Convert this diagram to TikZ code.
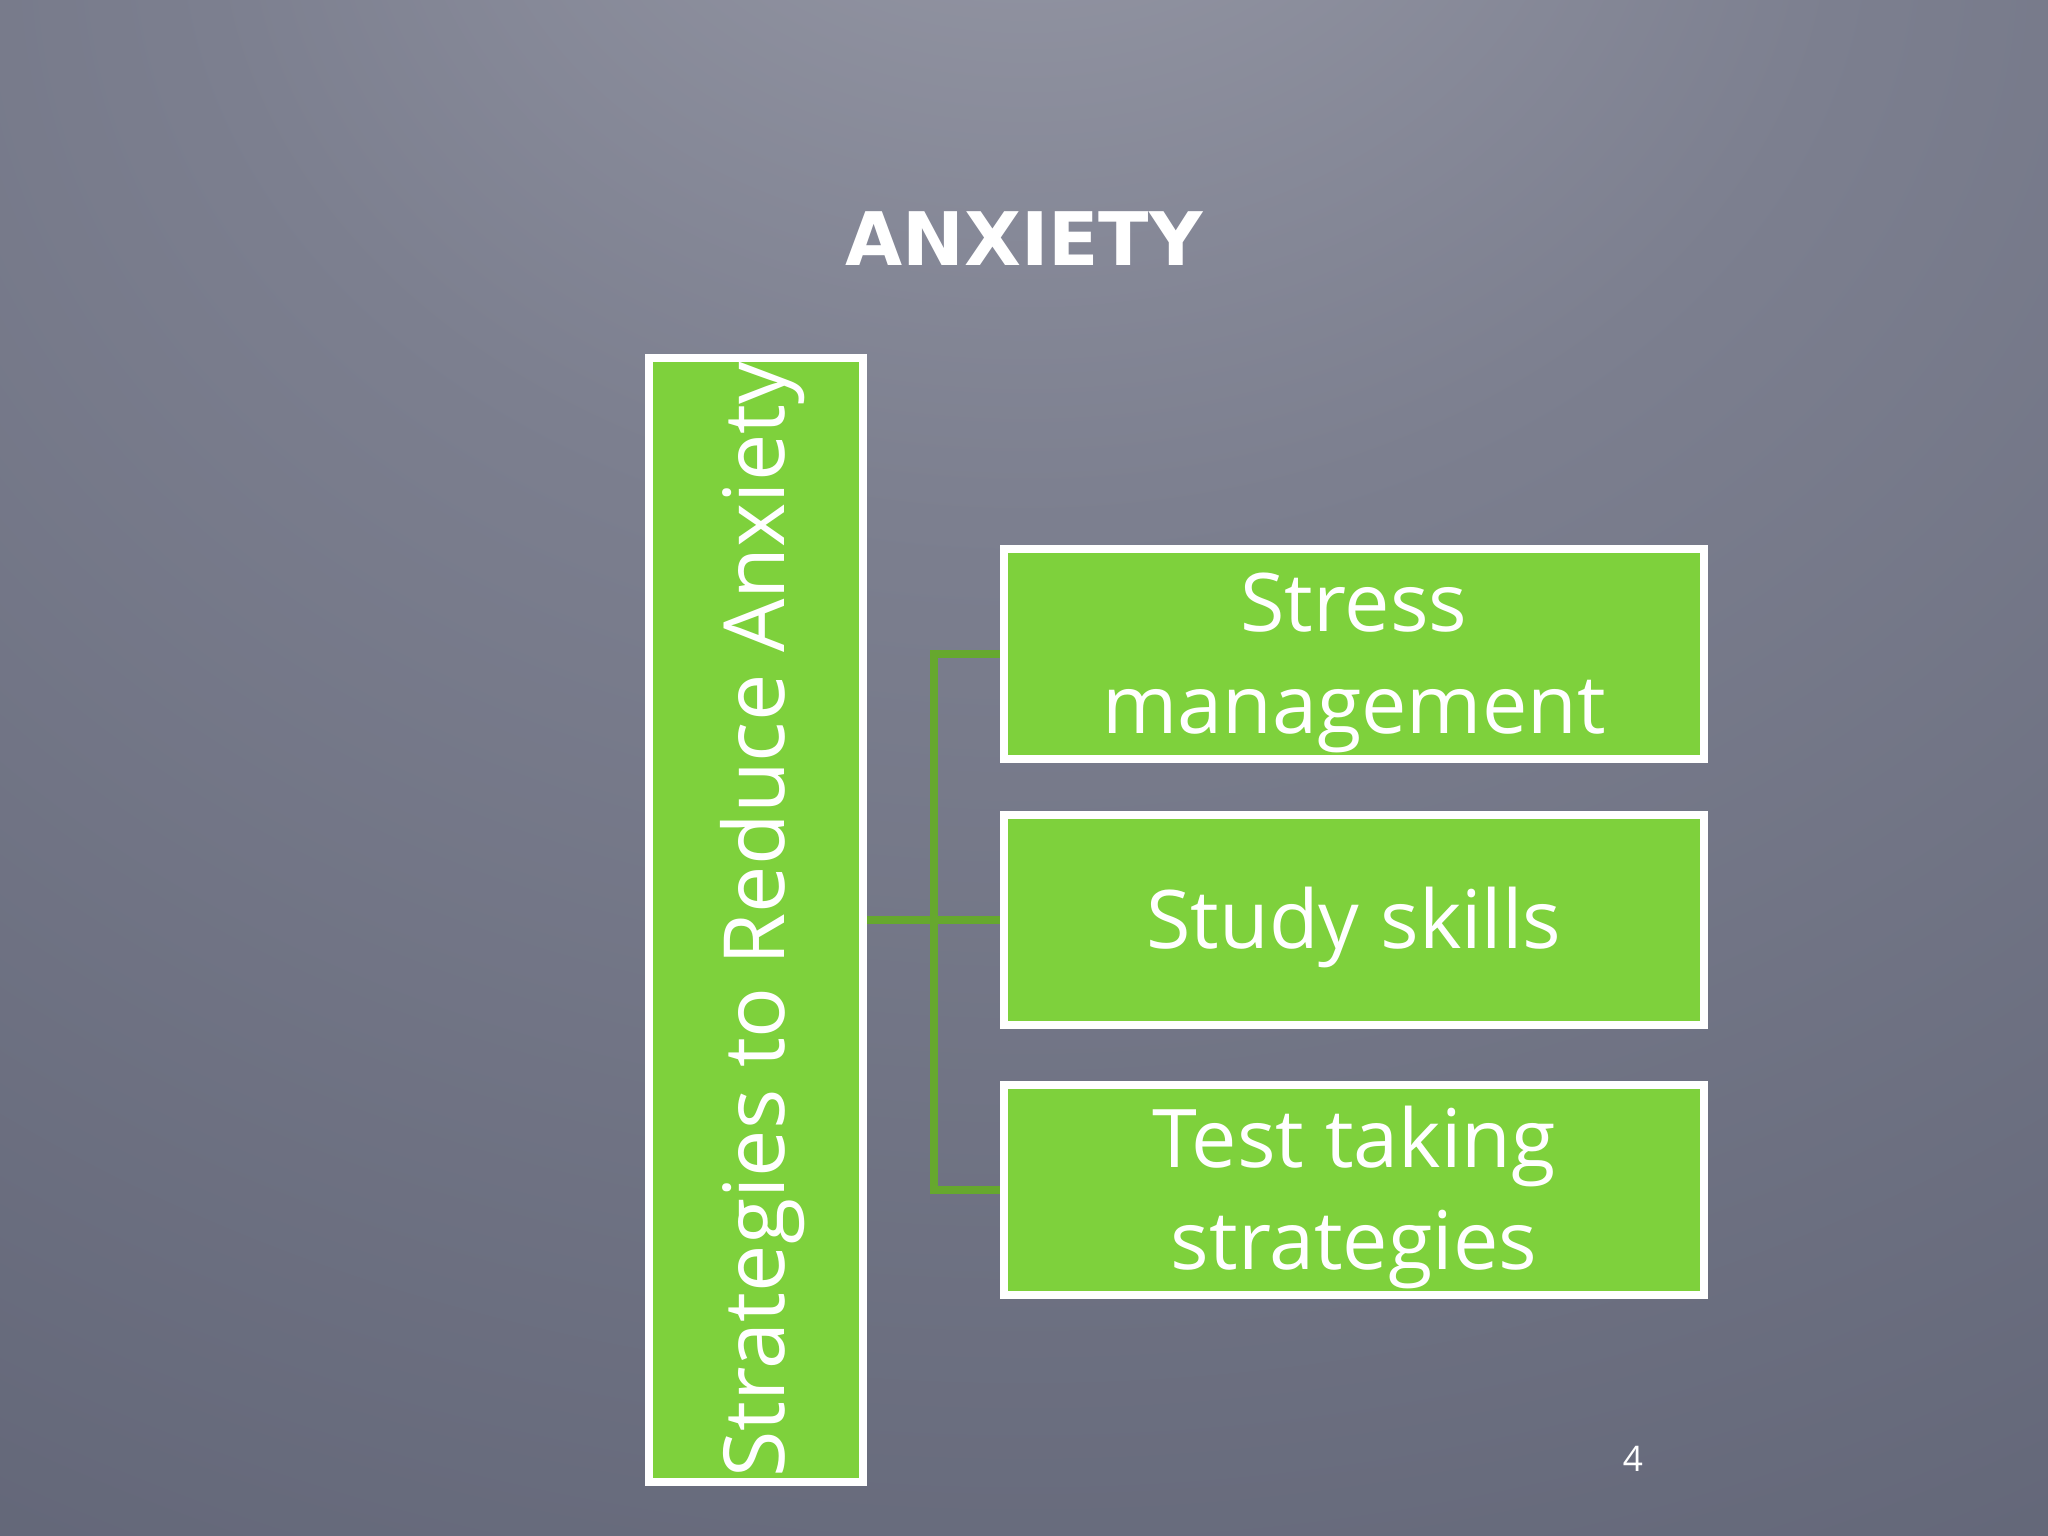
\documentclass[tikz,border=0pt]{standalone}
\usepackage{fontspec}
\setmainfont{Open Sans}
\newfontfamily\titlefont{DejaVu Sans}
\usetikzlibrary{positioning,backgrounds}

\definecolor{leaf}{HTML}{7ED13C}
\definecolor{stem}{HTML}{66A82E}
\definecolor{bgin}{HTML}{9A9CA9}
\definecolor{bgmid}{HTML}{7C7F8F}
\definecolor{bgout}{HTML}{5A5E70}
\pgfdeclareradialshading{slidebg}{\pgfpoint{0bp}{36bp}}{color(0bp)=(bgin); color(20bp)=(bgmid); color(60bp)=(bgout); color(90bp)=(bgout!92!black)}

\newcommand\lowstrut{\rule{0pt}{21.5pt}}

\tikzset{
  leafbox/.style={draw=white, line width=2.3pt, fill=leaf, text=white, inner sep=0pt,
    font=\fontsize{23}{29}\selectfont, align=center},
  stemline/.style={stem, line width=2.4pt}
}

\begin{document}
\begin{tikzpicture}[x=0.01cm,y=-0.01cm]
\node[text=white, font=\titlefont\bfseries\fontsize{21}{25}\selectfont] (title) at (1024,239) {ANXIETY};

\node[leafbox, rotate=90, minimum width=11.24cm, minimum height=2.14cm,
  font=\fontsize{24}{29}\selectfont] (main) at (756,920) {\rule{0pt}{22pt}Strategies to Reduce Anxiety};

\node[leafbox, minimum width=7cm, minimum height=2.1cm] (stress) at (1354,654) {\lowstrut Stress\\management};
\node[leafbox, minimum width=7cm, minimum height=2.1cm] (study) at (1354,920) {\lowstrut Study skills};
\node[leafbox, minimum width=7cm, minimum height=2.1cm] (test) at (1354,1190) {\lowstrut Test taking\\strategies};

\coordinate (bus) at (934,920);
\begin{scope}[on background layer]
  \shade[shading=slidebg] (0,0) rectangle (2048,1536);
  \draw[stemline] (main.south) -- (study.west);
  \draw[stemline] (stress.west) -| (bus) |- (test.west);
\end{scope}

\node[text=white, font=\fontsize{10}{12}\selectfont] (page) at (1633,1459) {4};
\end{tikzpicture}
\end{document}
